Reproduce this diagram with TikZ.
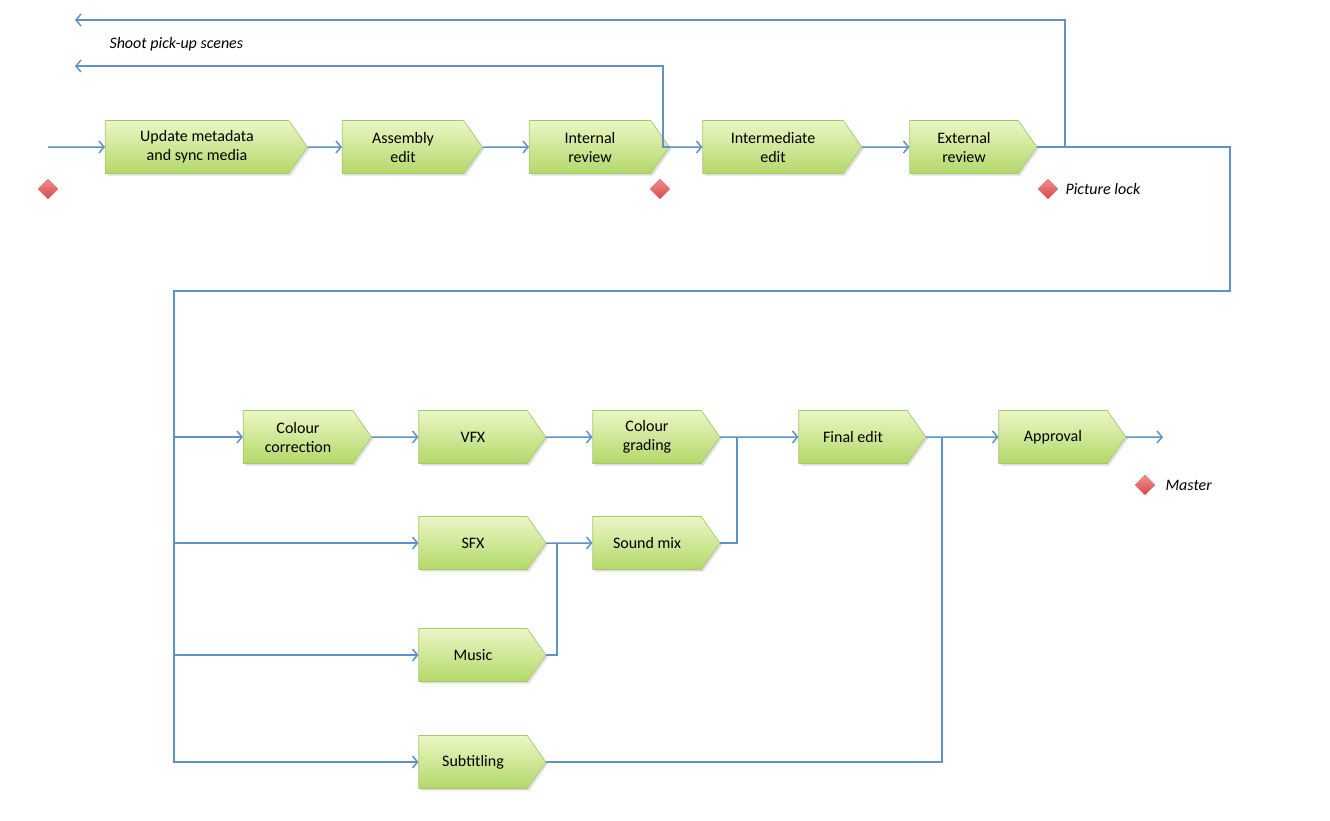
\documentclass[tikz,border=0pt]{standalone}
\usepackage{fontspec}
\setmainfont{Carlito}
\usetikzlibrary{shapes.symbols,shapes.geometric,arrows.meta,shadows}
\definecolor{ln}{HTML}{5F93C8}
\definecolor{gtop}{HTML}{EAF7C4}
\definecolor{gbot}{HTML}{B3D86A}
\definecolor{gbd}{HTML}{A6C66A}
\definecolor{rtop}{HTML}{F08E8E}
\definecolor{rbot}{HTML}{D54A4A}
\tikzset{
 x=1pt,y=-1pt,
 blk/.style={signal, signal to=east, signal pointer angle=110, draw=gbd, line width=0.6pt,
   top color=gtop, bottom color=gbot, minimum height=53pt, align=center,
   font=\fontsize{16}{19}\selectfont, inner sep=2pt,
   drop shadow={opacity=0.25,shadow xshift=2pt,shadow yshift=-2pt}},
 w/.style={minimum width=#1pt},
 con/.style={draw=ln, line width=1.5pt, -{Straight Barb[length=5pt,width=12pt,line width=1.5pt]}},
 plain/.style={draw=ln, line width=1.5pt},
 dia/.style={diamond, minimum size=20pt, inner sep=0pt, top color=rtop, bottom color=rbot, draw=rbot!80, line width=0.4pt},
 lbl/.style={font=\fontsize{16}{19}\selectfont\itshape, anchor=west}
}
\begin{document}
\begin{tikzpicture}
\useasboundingbox (0,0) rectangle (1330,820);
\node[blk,w=202] (upd) at (197,147) {Update metadata\\and sync media};
\node[blk,w=140] (asm) at (403,147) {Assembly\\edit};
\node[blk,w=140] (irv) at (590,147) {Internal\\review};
\node[blk,w=159] (ime) at (773,147) {Intermediate\\edit};
\node[blk,w=127] (erv) at (964,147) {External\\review};
\node[blk,w=128] (cc) at (298,437) {Colour\\correction};
\node[blk,w=127] (vfx) at (473,437) {VFX};
\node[blk,w=127] (cg) at (647,437) {Colour\\grading};
\node[blk,w=127] (fe) at (853,437) {Final edit};
\node[blk,w=127] (app) at (1053,437) {Approval};
\node[blk,w=127] (sfx) at (473,543) {SFX};
\node[blk,w=127] (smx) at (647,543) {Sound mix};
\node[blk,w=127] (mus) at (473,655) {Music};
\node[blk,w=127] (sub) at (473,762) {Subtitling};
\coordinate (in) at (48,147);
\coordinate (out) at (1163,437);
\coordinate (ret1) at (75,66);
\coordinate (ret2) at (75,20);
\node[dia] (d1) at (48,189) {};
\node[dia] (d2) at (660,189) {};
\node[dia] (d3) at (1048,189) {};
\node[dia] (d4) at (1145,485) {};
\node[lbl] (t1) at (1062,189) {Picture lock};
\node[lbl] (t2) at (1162,485) {Master};
\node[lbl] (t3) at (106,44) {Shoot pick-up scenes};
\draw[con] (in) -- (upd);
\draw[con] (upd) -- (asm);
\draw[con] (asm) -- (irv);
\draw[con] (irv) -- (ime);
\draw[con] (ime) -- (erv);
\draw[con] (irv.east) -- (663,147) -- (663,66) -- (ret1);
\draw[con] (erv.east) -- (1065,147) -- (1065,20) -- (ret2);
\draw[con] (erv.east) -- (1230,147) -- (1230,291) -- (174,291) |- (sub.west);
\draw[con] (174,437) -- (cc.west);
\draw[con] (174,543) -- (sfx.west);
\draw[con] (174,655) -- (mus.west);
\draw[con] (cc) -- (vfx);
\draw[con] (vfx) -- (cg);
\draw[con] (cg) -- (fe);
\draw[plain] (smx.east) -- (737,543) -- (737,437);
\draw[con] (sfx) -- (smx);
\draw[plain] (mus.east) -- (557,655) -- (557,543);
\draw[con] (fe) -- (app);
\draw[plain] (sub.east) -- (942,762) -- (942,437);
\draw[con] (app) -- (out);
\end{tikzpicture}
\end{document}
